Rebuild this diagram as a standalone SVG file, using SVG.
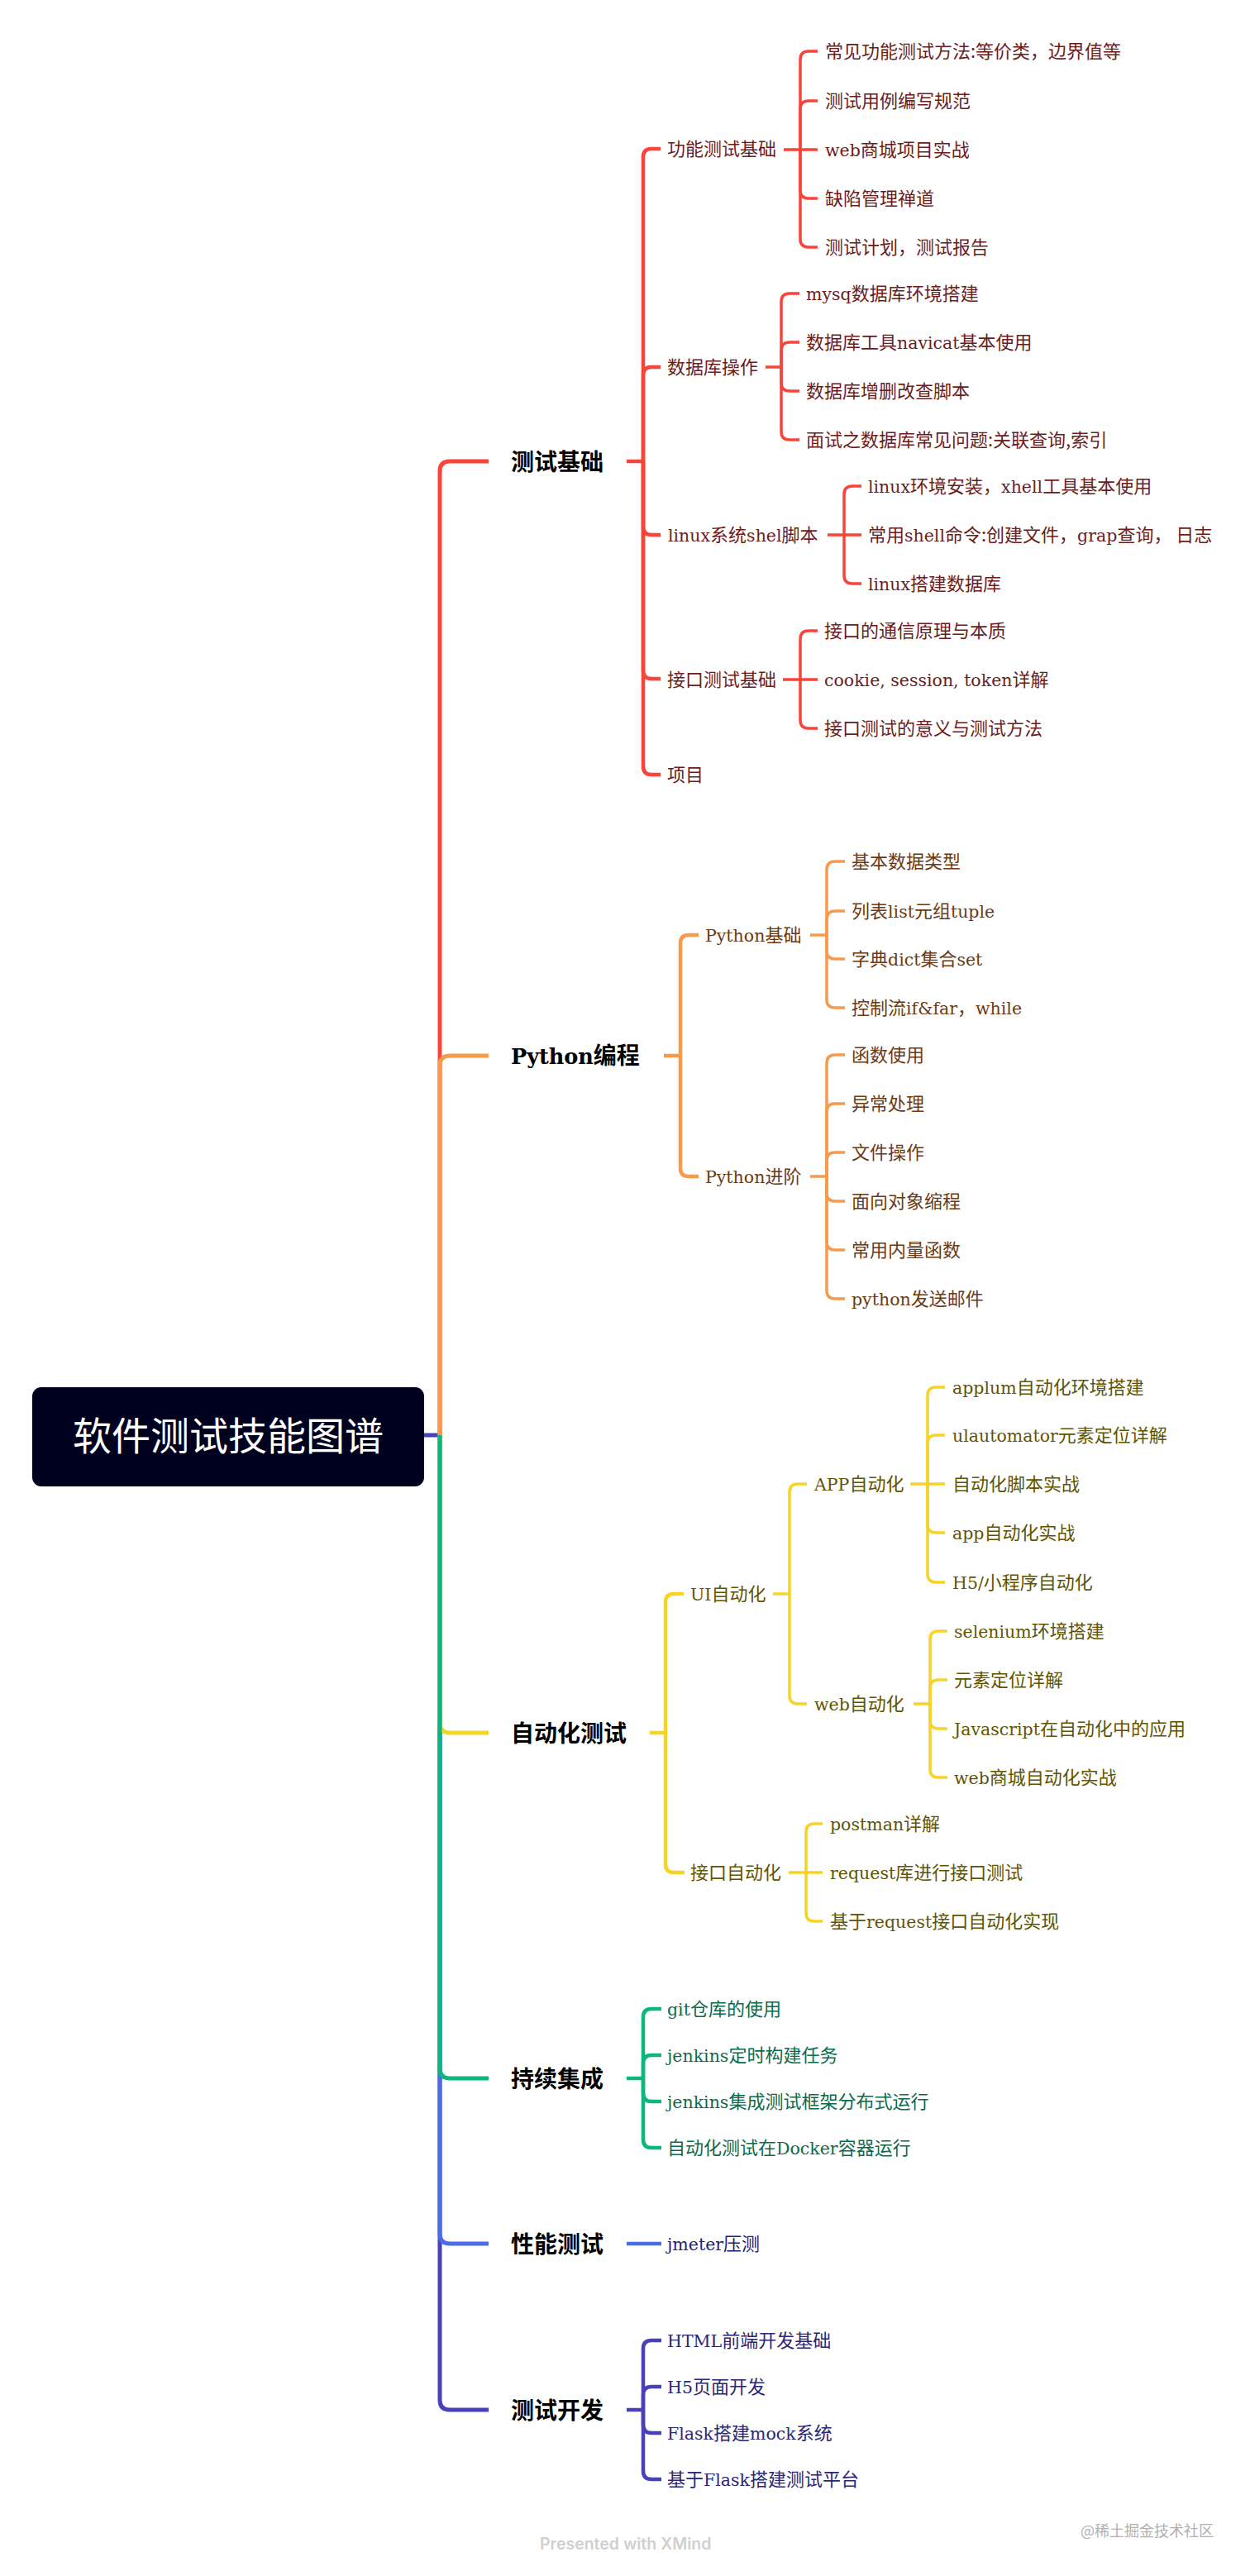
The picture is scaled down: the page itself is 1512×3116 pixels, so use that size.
<svg xmlns="http://www.w3.org/2000/svg" width="1512" height="3116" viewBox="0 0 1512 3116">
<style>
text{font-family:"Noto Sans CJK SC",sans-serif;font-size:22px}
.l{font-family:"DejaVu Serif","Noto Sans CJK SC",serif;font-size:20.5px}
.h{font-size:28px;font-weight:700;fill:#000}
.h .l{font-size:25.5px;font-weight:700}
.root{font-size:47px;fill:#fff}
.tr{fill:#6b1d1d}.to{fill:#6b3a12}.ty{fill:#5f5400}.tg{fill:#0b6b4c}.tb{fill:#1b2472}.tp{fill:#2c2672}
path{fill:none}
.cr{stroke:#f9443a}.co{stroke:#f79a4b}.cy{stroke:#f5d327}.cg{stroke:#0cb67e}.cb{stroke:#4b6be8}.cp{stroke:#4a40b8}
.w1{stroke-width:5px}.w2{stroke-width:4.5px}.w3{stroke-width:3.5px}
</style>
<rect width="1512" height="3116" fill="#fff"/>
<g id="connectors">
<path class="cp w1" d="M513 1736H532"/>
<path class="cr w1" d="M532 1736V570Q532 558 544 558H591"/>
<path class="co w1" d="M532 1736V1289Q532 1277 544 1277H591"/>
<path class="cp w1" d="M532 1736V2903Q532 2915 544 2915H591"/>
<path class="cb w1" d="M532 1736V2702Q532 2714 544 2714H591"/>
<path class="cy w1" d="M532 1736V2084Q532 2096 544 2096H591"/>
<path class="cg w1" d="M532 1736V2502Q532 2514 544 2514H591"/>

<path class="cr w2" d="M758 558H778"/>
<path class="cr w2" d="M778 558V190Q778 180 788 180H799"/>
<path class="cr w2" d="M778 558V454Q778 444 788 444H799"/>
<path class="cr w2" d="M778 558V637Q778 647 788 647H799"/>
<path class="cr w2" d="M778 558V811Q778 821 788 821H799"/>
<path class="cr w2" d="M778 558V927Q778 937 788 937H799"/>

<path class="cr w3" d="M948 181H989"/>
<path class="cr w3" d="M968 181V72Q968 62 978 62H989"/>
<path class="cr w3" d="M968 181V132Q968 122 978 122H989"/>
<path class="cr w3" d="M968 181V230Q968 240 978 240H989"/>
<path class="cr w3" d="M968 181V289Q968 299 978 299H989"/>

<path class="cr w3" d="M926 444H945"/>
<path class="cr w3" d="M945 444V365Q945 355 955 355H967"/>
<path class="cr w3" d="M945 444V424Q945 414 955 414H967"/>
<path class="cr w3" d="M945 444V463Q945 473 955 473H967"/>
<path class="cr w3" d="M945 444V522Q945 532 955 532H967"/>

<path class="cr w3" d="M1001 647H1042"/>
<path class="cr w3" d="M1021 647V598Q1021 588 1031 588H1042"/>
<path class="cr w3" d="M1021 647V696Q1021 706 1031 706H1042"/>

<path class="cr w3" d="M947 822H989"/>
<path class="cr w3" d="M968 822V773Q968 763 978 763H989"/>
<path class="cr w3" d="M968 822V871Q968 881 978 881H989"/>

<path class="co w2" d="M803 1277H823"/>
<path class="co w2" d="M823 1277V1141Q823 1131 833 1131H845"/>
<path class="co w2" d="M823 1277V1413Q823 1423 833 1423H845"/>

<path class="co w3" d="M980 1131H1000"/>
<path class="co w3" d="M1000 1131V1052Q1000 1042 1010 1042H1022"/>
<path class="co w3" d="M1000 1131V1112Q1000 1102 1010 1102H1022"/>
<path class="co w3" d="M1000 1131V1150Q1000 1160 1010 1160H1022"/>
<path class="co w3" d="M1000 1131V1209Q1000 1219 1010 1219H1022"/>

<path class="co w3" d="M980 1423H1000"/>
<path class="co w3" d="M1000 1423V1286Q1000 1276 1010 1276H1022"/>
<path class="co w3" d="M1000 1423V1345Q1000 1335 1010 1335H1022"/>
<path class="co w3" d="M1000 1423V1404Q1000 1394 1010 1394H1022"/>
<path class="co w3" d="M1000 1423V1443Q1000 1453 1010 1453H1022"/>
<path class="co w3" d="M1000 1423V1502Q1000 1512 1010 1512H1022"/>
<path class="co w3" d="M1000 1423V1561Q1000 1571 1010 1571H1022"/>

<path class="cy w2" d="M786 2096H805"/>
<path class="cy w2" d="M805 2096V1938Q805 1928 815 1928H827"/>
<path class="cy w2" d="M805 2096V2255Q805 2265 815 2265H828"/>

<path class="cy w3" d="M935 1928H955"/>
<path class="cy w3" d="M955 1928V1805Q955 1795 965 1795H976"/>
<path class="cy w3" d="M955 1928V2051Q955 2061 965 2061H976"/>

<path class="cy w3" d="M1101 1795H1143"/>
<path class="cy w3" d="M1122 1795V1688Q1122 1678 1132 1678H1143"/>
<path class="cy w3" d="M1122 1795V1746Q1122 1736 1132 1736H1143"/>
<path class="cy w3" d="M1122 1795V1844Q1122 1854 1132 1854H1143"/>
<path class="cy w3" d="M1122 1795V1904Q1122 1914 1132 1914H1143"/>

<path class="cy w3" d="M1105 2061H1125"/>
<path class="cy w3" d="M1125 2061V1983Q1125 1973 1135 1973H1146"/>
<path class="cy w3" d="M1125 2061V2042Q1125 2032 1135 2032H1146"/>
<path class="cy w3" d="M1125 2061V2081Q1125 2091 1135 2091H1146"/>
<path class="cy w3" d="M1125 2061V2140Q1125 2150 1135 2150H1146"/>

<path class="cy w3" d="M954 2265H995"/>
<path class="cy w3" d="M975 2265V2216Q975 2206 985 2206H995"/>
<path class="cy w3" d="M975 2265V2314Q975 2324 985 2324H995"/>

<path class="cg w2" d="M758 2514H778"/>
<path class="cg w2" d="M778 2514V2440Q778 2430 788 2430H800"/>
<path class="cg w2" d="M778 2514V2496Q778 2486 788 2486H800"/>
<path class="cg w2" d="M778 2514V2532Q778 2542 788 2542H800"/>
<path class="cg w2" d="M778 2514V2588Q778 2598 788 2598H800"/>

<path class="cb w2" d="M758 2714H800"/>

<path class="cp w2" d="M758 2915H778"/>
<path class="cp w2" d="M778 2915V2841Q778 2831 788 2831H800"/>
<path class="cp w2" d="M778 2915V2897Q778 2887 788 2887H800"/>
<path class="cp w2" d="M778 2915V2933Q778 2943 788 2943H800"/>
<path class="cp w2" d="M778 2915V2989Q778 2999 788 2999H800"/>
</g>

<g id="root"><rect x="39" y="1678" width="474" height="120" rx="11" fill="#00001f"/><text class="root" x="88" y="1754">软件测试技能图谱</text></g>

<g id="a"><text class="h" x="618" y="569">测试基础</text></g>
<g id="b"><text class="h" x="618" y="1287"><tspan class="l">Python</tspan>编程</text></g>
<g id="c"><text class="h" x="618" y="2107">自动化测试</text></g>
<g id="d"><text class="h" x="618" y="2525">持续集成</text></g>
<g id="e"><text class="h" x="618" y="2725">性能测试</text></g>
<g id="f"><text class="h" x="618" y="2926">测试开发</text></g>

<g id="a1"><text class="tr" x="807" y="188">功能测试基础</text></g>
<g id="a11"><text class="tr" x="998" y="70">常见功能测试方法:等价类，边界值等</text></g>
<g id="a12"><text class="tr" x="998" y="130">测试用例编写规范</text></g>
<g id="a13"><text class="tr" x="998" y="189"><tspan class="l">web</tspan>商城项目实战</text></g>
<g id="a14"><text class="tr" x="998" y="248">缺陷管理禅道</text></g>
<g id="a15"><text class="tr" x="998" y="307">测试计划，测试报告</text></g>
<g id="a2"><text class="tr" x="807" y="452">数据库操作</text></g>
<g id="a21"><text class="tr" x="975" y="363"><tspan class="l">mysq</tspan>数据库环境搭建</text></g>
<g id="a22"><text class="tr" x="975" y="422">数据库工具<tspan class="l">navicat</tspan>基本使用</text></g>
<g id="a23"><text class="tr" x="975" y="481">数据库增删改查脚本</text></g>
<g id="a24"><text class="tr" x="975" y="540">面试之数据库常见问题:关联查询,索引</text></g>
<g id="a3"><text class="tr" x="808" y="655"><tspan class="l">linux</tspan>系统<tspan class="l">shel</tspan>脚本</text></g>
<g id="a31"><text class="tr" x="1050" y="596"><tspan class="l">linux</tspan>环境安装，<tspan class="l">xhell</tspan>工具基本使用</text></g>
<g id="a32"><text class="tr" x="1050" y="655">常用<tspan class="l">shell</tspan>命令:创建文件，<tspan class="l">grap</tspan>查询， 日志</text></g>
<g id="a33"><text class="tr" x="1050" y="714"><tspan class="l">linux</tspan>搭建数据库</text></g>
<g id="a4"><text class="tr" x="807" y="830">接口测试基础</text></g>
<g id="a41"><text class="tr" x="997" y="771">接口的通信原理与本质</text></g>
<g id="a42"><text class="tr" x="997" y="830"><tspan class="l">cookie, session, token</tspan>详解</text></g>
<g id="a43"><text class="tr" x="997" y="889">接口测试的意义与测试方法</text></g>
<g id="a5"><text class="tr" x="807" y="945">项目</text></g>

<g id="b1"><text class="to" x="853" y="1139"><tspan class="l">Python</tspan>基础</text></g>
<g id="b11"><text class="to" x="1030" y="1050">基本数据类型</text></g>
<g id="b12"><text class="to" x="1030" y="1110">列表<tspan class="l">list</tspan>元组<tspan class="l">tuple</tspan></text></g>
<g id="b13"><text class="to" x="1030" y="1168">字典<tspan class="l">dict</tspan>集合<tspan class="l">set</tspan></text></g>
<g id="b14"><text class="to" x="1030" y="1227">控制流<tspan class="l">if&amp;far</tspan>，<tspan class="l">while</tspan></text></g>
<g id="b2"><text class="to" x="853" y="1431"><tspan class="l">Python</tspan>进阶</text></g>
<g id="b21"><text class="to" x="1030" y="1284">函数使用</text></g>
<g id="b22"><text class="to" x="1030" y="1343">异常处理</text></g>
<g id="b23"><text class="to" x="1030" y="1402">文件操作</text></g>
<g id="b24"><text class="to" x="1030" y="1461">面向对象缩程</text></g>
<g id="b25"><text class="to" x="1030" y="1520">常用内量函数</text></g>
<g id="b26"><text class="to" x="1030" y="1579"><tspan class="l">python</tspan>发送邮件</text></g>

<g id="c1"><text class="ty" x="835" y="1936"><tspan class="l">UI</tspan>自动化</text></g>
<g id="c11"><text class="ty" x="985" y="1803"><tspan class="l">APP</tspan>自动化</text></g>
<g id="c111"><text class="ty" x="1152" y="1686"><tspan class="l">applum</tspan>自动化环境搭建</text></g>
<g id="c112"><text class="ty" x="1152" y="1744"><tspan class="l">ulautomator</tspan>元素定位详解</text></g>
<g id="c113"><text class="ty" x="1152" y="1803">自动化脚本实战</text></g>
<g id="c114"><text class="ty" x="1152" y="1862"><tspan class="l">app</tspan>自动化实战</text></g>
<g id="c115"><text class="ty" x="1152" y="1922"><tspan class="l">H5/</tspan>小程序自动化</text></g>
<g id="c12"><text class="ty" x="985" y="2069"><tspan class="l">web</tspan>自动化</text></g>
<g id="c121"><text class="ty" x="1154" y="1981"><tspan class="l">selenium</tspan>环境搭建</text></g>
<g id="c122"><text class="ty" x="1154" y="2040">元素定位详解</text></g>
<g id="c123"><text class="ty" x="1154" y="2099"><tspan class="l">Javascript</tspan>在自动化中的应用</text></g>
<g id="c124"><text class="ty" x="1154" y="2158"><tspan class="l">web</tspan>商城自动化实战</text></g>
<g id="c2"><text class="ty" x="835" y="2273">接口自动化</text></g>
<g id="c21"><text class="ty" x="1004" y="2214"><tspan class="l">postman</tspan>详解</text></g>
<g id="c22"><text class="ty" x="1004" y="2273"><tspan class="l">request</tspan>库进行接口测试</text></g>
<g id="c23"><text class="ty" x="1004" y="2332">基于<tspan class="l">request</tspan>接口自动化实现</text></g>

<g id="d1"><text class="tg" x="807" y="2438"><tspan class="l">git</tspan>仓库的使用</text></g>
<g id="d2"><text class="tg" x="807" y="2494"><tspan class="l">jenkins</tspan>定时构建任务</text></g>
<g id="d3"><text class="tg" x="807" y="2550"><tspan class="l">jenkins</tspan>集成测试框架分布式运行</text></g>
<g id="d4"><text class="tg" x="807" y="2606">自动化测试在<tspan class="l">Docker</tspan>容器运行</text></g>

<g id="e1"><text class="tb" x="807" y="2722"><tspan class="l">jmeter</tspan>压测</text></g>

<g id="f1"><text class="tp" x="807" y="2839"><tspan class="l">HTML</tspan>前端开发基础</text></g>
<g id="f2"><text class="tp" x="807" y="2895"><tspan class="l">H5</tspan>页面开发</text></g>
<g id="f3"><text class="tp" x="807" y="2951"><tspan class="l">Flask</tspan>搭建<tspan class="l">mock</tspan>系统</text></g>
<g id="f4"><text class="tp" x="807" y="3007">基于<tspan class="l">Flask</tspan>搭建测试平台</text></g>

<g id="xmind"><text x="653" y="3084" style="font-family:'Inter','Liberation Sans',sans-serif;font-size:19.5px;font-weight:600;fill:#d0d0d0">Presented with XMind</text></g>
<g id="juejin"><text x="1307" y="3068" style="font-size:18px;fill:#b0b0b0">@稀土掘金技术社区</text></g>
</svg>
